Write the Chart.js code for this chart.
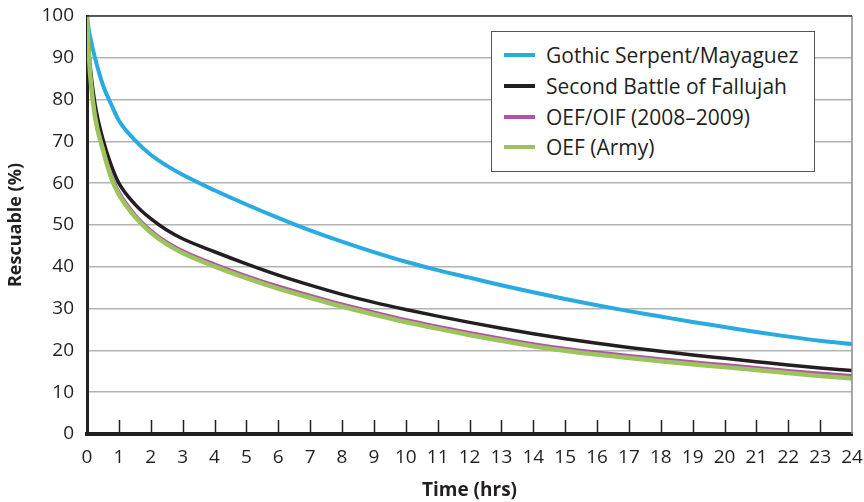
<!DOCTYPE html>
<html>
<head>
<meta charset="utf-8">
<script src="https://cdn.jsdelivr.net/npm/chart.js@4/dist/chart.umd.min.js"></script>
<style>
  html, body { margin: 0; padding: 0; background: #fff; }
  #wrap { position: relative; width: 864px; height: 502px; font-family: "Open Sans", sans-serif; }
  #legend {
    position: absolute; left: 491px; top: 31px; width: 324px; height: 141px;
    border: 1.5px solid #555; background: #fff; box-sizing: border-box;
    padding-top: 8px;
  }
  .row { height: 30.7px; display: flex; align-items: center; font-size: 21px; color: #231f20; }
  .row span.sw { display: inline-block; width: 31px; height: 4px; margin-left: 12px; margin-right: 11px; }
</style>
</head>
<body>
<div id="wrap">
  <canvas id="myChart" width="864" height="502"></canvas>
  <div id="legend"></div>
</div>
<script>
var ctx, chart, hours, gothic, fallujah, oefOif, oefArmy, names, colors, widths, tickHours;

// time (hrs)
hours =    [0,   0.05, 0.1, 0.25, 0.5,  0.75, 1,    1.5,  2,    2.5,  3,    4,    5,    6,    7,    8,    9,    10,   11,   12,   13,   14,   15,   16,   17,   18,   19,   20,   21,   22,   23,   24];
gothic =   [100, 97,   95,  90,   83.5, 79,   75,   70.3, 66.8, 64.2, 62,   58.3, 54.9, 51.7, 48.7, 46,   43.5, 41.2, 39.2, 37.4, 35.6, 33.9, 32.3, 30.8, 29.4, 28.1, 26.8, 25.6, 24.4, 23.3, 22.3, 21.5];
fallujah = [100, 93,   88,  79,   70.5, 64.5, 60,   55,   51.5, 48.8, 46.7, 43.6, 40.7, 38,   35.6, 33.4, 31.5, 29.8, 28.2, 26.7, 25.3, 24,   22.8, 21.7, 20.7, 19.8, 18.9, 18.1, 17.3, 16.5, 15.8, 15.2];
oefOif =   [100, 92,   86.5, 76.5, 68.5, 62.3, 58,  52.6, 48.8, 46,   43.9, 40.7, 37.9, 35.4, 33.2, 31.1, 29.2, 27.4, 25.8, 24.3, 22.9, 21.6, 20.5, 19.6, 18.8, 18,   17.3, 16.6, 15.9, 15.2, 14.6, 14];
oefArmy =  [100, 92,   86,  76,   68,   61.5, 57.3, 52,   48.2, 45.4, 43.3, 40.1, 37.3, 34.8, 32.6, 30.5, 28.6, 26.8, 25.2, 23.7, 22.3, 21,   19.9, 19,   18.2, 17.4, 16.7, 16,   15.3, 14.6, 13.9, 13.3];

names = ['Gothic Serpent/Mayaguez', 'Second Battle of Fallujah', 'OEF/OIF (2008\u20132009)', 'OEF (Army)'];
colors = ['#29abe2', '#231f20', '#ad55a8', '#9dc35c'];
widths = [4, 3.5, 3, 4.5];
tickHours = [1, 2, 3, 4, 5, 6, 7, 8, 9, 10, 11, 12, 13, 14, 15, 16, 17, 18, 19, 20, 21, 22, 23];

function pts(vals) {
  return hours.map(function(h, i) { return { x: h, y: vals[i] }; });
}

var seriesVals = [gothic, fallujah, oefOif, oefArmy];
var drawOrder = [3, 2, 1, 0];

var frame = {
  id: 'frame',
  afterDatasetsDraw: function(c) {
    var a = c.chartArea, x = c.scales.x, g = c.ctx;
    g.save();
    g.strokeStyle = '#8a8a8a';
    g.lineWidth = 1.5;
    g.beginPath(); g.moveTo(a.right, a.top); g.lineTo(a.right, a.bottom); g.stroke();
    g.strokeStyle = '#333';
    g.beginPath(); g.moveTo(a.left, a.top); g.lineTo(a.right, a.top); g.stroke();
    g.strokeStyle = '#231f20';
    g.lineWidth = 1.5;
    tickHours.forEach(function(h) {
      var px = Math.round(x.getPixelForValue(h)) + 0.5;
      g.beginPath(); g.moveTo(px, a.bottom); g.lineTo(px, a.bottom - 14); g.stroke();
    });
    g.restore();
  }
};

ctx = document.getElementById('myChart').getContext('2d');

chart = new Chart(ctx, {
  type: 'line',
  data: {
    datasets: seriesVals.map(function(v, i) {
      return {
        label: names[i],
        data: pts(v),
        borderColor: colors[i],
        backgroundColor: colors[i],
        borderWidth: widths[i],
        pointRadius: 0,
        fill: false,
        cubicInterpolationMode: 'monotone',
        order: drawOrder[i]
      };
    })
  },
  options: {
    responsive: false,
    devicePixelRatio: 1,
    animation: false,
    layout: { padding: 0 },
    plugins: { legend: { display: false }, tooltip: { enabled: false } },
    scales: {
      x: {
        type: 'linear', min: 0, max: 24,
        ticks: { stepSize: 1, color: '#231f20', padding: 12, font: { family: 'Open Sans', size: 19 }, maxRotation: 0, autoSkip: false },
        grid: { display: false, drawTicks: false },
        border: { color: '#231f20', width: 4 },
        title: { display: true, text: 'Time (hrs)', color: '#231f20', font: { family: 'Open Sans', size: 19, weight: 'bold' }, padding: { top: 0, bottom: 0 } },
        afterFit: function(s) { s.height = 68; s.paddingLeft = 0; s.paddingRight = 12; }
      },
      y: {
        min: 0, max: 100,
        ticks: { stepSize: 10, color: '#231f20', padding: 13, font: { family: 'Open Sans', size: 19 } },
        grid: { color: '#b3b3b3', lineWidth: 1.5, drawTicks: false },
        border: { color: '#231f20', width: 3 },
        title: { display: true, text: 'Rescuable (%)', color: '#231f20', font: { family: 'Open Sans', size: 18, weight: 'bold' }, padding: { top: 5, bottom: 0 } },
        afterFit: function(s) { s.width = 87; s.paddingTop = 16; s.paddingBottom = 0; }
      }
    }
  },
  plugins: [frame]
});

var leg = document.getElementById('legend');
names.forEach(function(n, i) {
  var row = document.createElement('div');
  row.className = 'row';
  var sw = document.createElement('span');
  sw.className = 'sw';
  sw.style.background = colors[i];
  row.appendChild(sw);
  row.appendChild(document.createTextNode(n));
  leg.appendChild(row);
});
</script>
</body>
</html>
